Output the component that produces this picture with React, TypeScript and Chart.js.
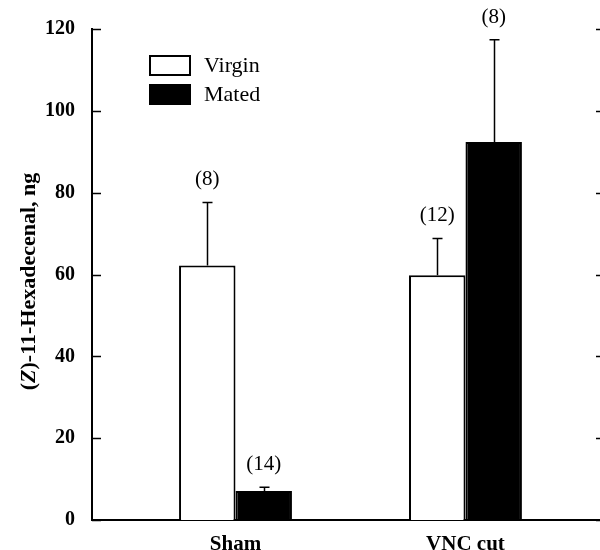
import React, { useEffect, useRef } from "react";
import { Chart, registerables } from "chart.js";

Chart.register(...registerables);

const categories = ["Sham", "VNC cut"];
const seriesNames = ["Virgin", "Mated"];
const virginValues = [62.2, 59.8];
const matedValues = [7.1, 92.4];
const virginErrors = [15.4, 9.0];
const matedErrors = [0.9, 25.0];
const virginCounts = ["(8)", "(12)"];
const matedCounts = ["(14)", "(8)"];
const yTicks = [0, 20, 40, 60, 80, 100, 120];
const yTitleParts = [
  { text: "(", style: "bold" },
  { text: "Z", style: "italic bold" },
  { text: ")-11-Hexadecenal, ng", style: "bold" },
];

const FONT = "'Liberation Serif', 'Times New Roman', serif";

export default function App() {
  const ref = useRef<HTMLCanvasElement | null>(null);

  useEffect(() => {
    if (!ref.current) return;
    const errs = [virginErrors, matedErrors];
    const counts = [virginCounts, matedCounts];

    const overlay = {
      id: "overlay",
      afterDatasetsDraw(chart: any) {
        const ctx = chart.ctx;
        const area = chart.chartArea;
        const ys = chart.scales.y;
        ctx.save();
        ctx.strokeStyle = "#000";
        ctx.fillStyle = "#000";
        // inward tick marks
        ctx.lineWidth = 1.5;
        yTicks.forEach((v) => {
          const py = Math.round(ys.getPixelForValue(v)) + 0.5;
          ctx.beginPath();
          ctx.moveTo(area.left, py);
          ctx.lineTo(area.left + 9, py);
          ctx.moveTo(area.right - 4, py);
          ctx.lineTo(area.right, py);
          ctx.stroke();
        });
        // error bars + counts
        chart.data.datasets.forEach((ds: any, di: number) => {
          const meta = chart.getDatasetMeta(di);
          meta.data.forEach((el: any, j: number) => {
            const val = ds.data[j].y;
            const top = ys.getPixelForValue(val + errs[di][j]);
            const x = Math.round(el.x) + 0.5;
            ctx.lineWidth = 1.5;
            ctx.beginPath();
            ctx.moveTo(x, el.y);
            ctx.lineTo(x, top);
            ctx.moveTo(x - 5, top);
            ctx.lineTo(x + 5, top);
            ctx.stroke();
            ctx.font = `21px ${FONT}`;
            ctx.textAlign = "center";
            ctx.textBaseline = "alphabetic";
            ctx.fillText(counts[di][j], el.x, top - 17);
          });
        });
        // legend
        const lx = area.left + 57;
        const rows = [
          { y: area.top + 26, fill: "#fff" },
          { y: area.top + 55, fill: "#000" },
        ];
        rows.forEach((r, i) => {
          ctx.fillStyle = r.fill;
          ctx.fillRect(lx, r.y, 42, 21);
          ctx.lineWidth = 2;
          ctx.strokeStyle = "#000";
          ctx.strokeRect(lx + 1, r.y + 1, 40, 19);
          ctx.fillStyle = "#000";
          ctx.font = `22px ${FONT}`;
          ctx.textAlign = "left";
          ctx.textBaseline = "middle";
          ctx.fillText(seriesNames[i], lx + 55, r.y + 11);
        });
        // y title
        ctx.save();
        ctx.translate(29, (area.top + area.bottom) / 2 + 7);
        ctx.rotate(-Math.PI / 2);
        ctx.textBaseline = "middle";
        ctx.textAlign = "left";
        let total = 0;
        yTitleParts.forEach((p) => {
          ctx.font = `${p.style} 22px ${FONT}`;
          total += ctx.measureText(p.text).width;
        });
        let cx = -total / 2;
        yTitleParts.forEach((p) => {
          ctx.font = `${p.style} 22px ${FONT}`;
          ctx.fillText(p.text, cx, 0);
          cx += ctx.measureText(p.text).width;
        });
        ctx.restore();
        ctx.restore();
      },
    };

    const chart = new Chart(ref.current, {
      type: "bar",
      data: {
        datasets: [
          {
            label: seriesNames[0],
            data: virginValues.map((v, i) => ({ x: i + 1, y: v })),
            backgroundColor: "#fff",
            borderColor: "#000",
            borderWidth: 2,
            borderSkipped: "bottom",
          },
          {
            label: seriesNames[1],
            data: matedValues.map((v, i) => ({ x: i + 1, y: v })),
            backgroundColor: "#000",
            borderColor: "#000",
            borderWidth: 2,
            borderSkipped: "bottom",
          },
        ],
      },
      options: {
        animation: false,
        responsive: false,
        categoryPercentage: 0.491,
        barPercentage: 1,
        layout: { padding: { top: 29, left: 0, right: 0, bottom: 0 } },
        plugins: { legend: { display: false }, tooltip: { enabled: false } },
        scales: {
          x: {
            type: "linear",
            offset: false,
            min: 0.376,
            max: 2.585,
            afterBuildTicks(scale: any) {
              scale.ticks = categories.map((_, i) => ({ value: i + 1 }));
            },
            afterFit(scale: any) {
              scale.height = 30;
            },
            ticks: {
              callback: (v: any) => categories[Number(v) - 1] ?? "",
              font: { family: FONT, size: 21, weight: "bold" },
              color: "#000",
              padding: 12,
              autoSkip: false,
              maxRotation: 0,
            },
            grid: { display: false, drawTicks: false, offset: false },
            border: { display: true, color: "#000", width: 2 },
          },
          y: {
            min: 0,
            max: 120,
            afterBuildTicks(scale: any) {
              scale.ticks = yTicks.map((v) => ({ value: v }));
            },
            afterFit(scale: any) {
              scale.width = 92;
            },
            ticks: {
              font: { family: FONT, size: 20, weight: "bold" },
              color: "#000",
              padding: 17,
            },
            grid: { display: false, drawTicks: false },
            border: { display: true, color: "#000", width: 2 },
          },
        },
      },
      plugins: [overlay],
    });
    return () => chart.destroy();
  }, []);

  return (
    <div style={{ position: "fixed", left: 0, top: 0, width: 600, height: 550, background: "#fff" }}>
      <canvas ref={ref} width={600} height={550} style={{ width: 600, height: 550 }} />
    </div>
  );
}
